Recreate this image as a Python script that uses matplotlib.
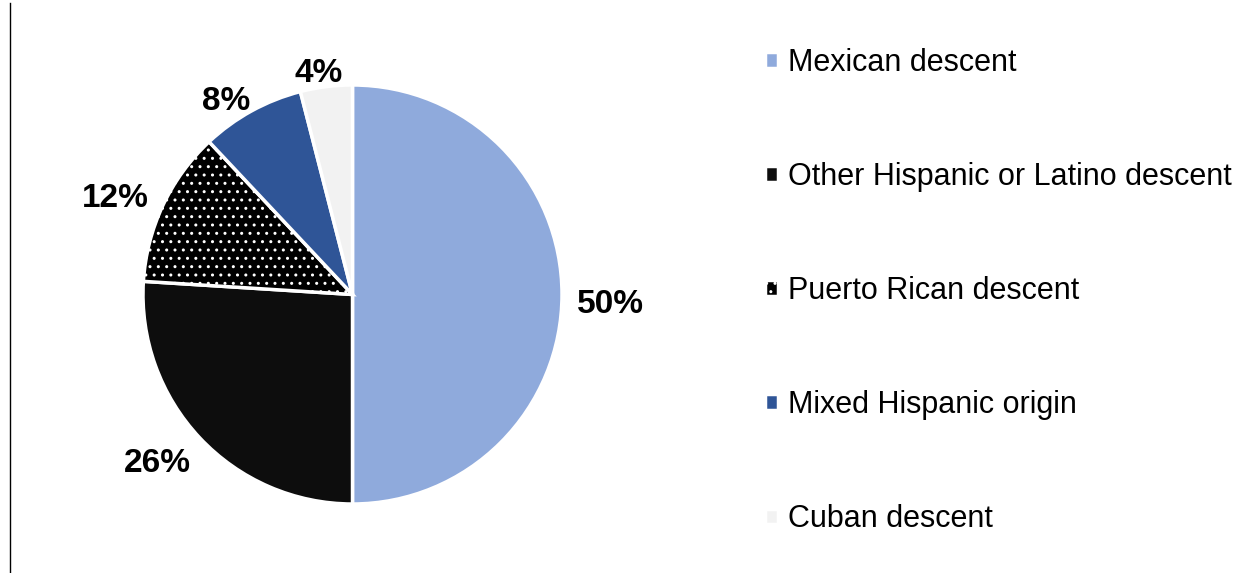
import numpy as np
import matplotlib.pyplot as plt
from matplotlib.lines import Line2D

plt.rcParams['font.family'] = ['Liberation Sans', 'DejaVu Sans']
plt.rcParams['hatch.linewidth'] = 1.0

# data
groups = ['Mexican descent', 'Other Hispanic or Latino descent',
          'Puerto Rican descent', 'Mixed Hispanic origin', 'Cuban descent']
shares = [50, 26, 12, 8, 4]

colors = ['#8FAADC', '#0D0D0D', '#000000', '#2F5597', '#F2F2F2']
hatches = [None, None, '..', None, None]
# label placement (radius multiple, angle nudge in degrees)
label_dist = [1.234, 1.22, 1.226, 1.112, 1.083]
label_turn = [-1.5, -2.8, 2.6, 4.0, 1.4]

fig = plt.figure(figsize=(12.43, 5.73), dpi=100)
ax = fig.add_axes([143 / 1243, 69 / 573, 419 / 1243, 419 / 573])

wedges, _ = ax.pie(shares, colors=colors, startangle=90, counterclock=False,
                   wedgeprops={'edgecolor': 'white', 'linewidth': 2.5})
for w, h in zip(wedges, hatches):
    if h:
        w.set_hatch(h)

for w, v, d, t in zip(wedges, shares, label_dist, label_turn):
    ang = np.deg2rad((w.theta1 + w.theta2) / 2 + t)
    ax.annotate('%d%%' % v, (d * np.cos(ang), d * np.sin(ang)),
                xytext=(0, -2.2), textcoords='offset points', annotation_clip=False,
                ha='center', va='center', fontsize=24, fontweight='bold')

ax.set_xlim(-1, 1)
ax.set_ylim(-1, 1)
ax.set_aspect('equal')
ax.axis('off')

fig.legend(wedges, groups, loc='upper left', bbox_to_anchor=(753 / 1243, 1 - 36 / 573),
           frameon=False, fontsize=22, handlelength=0.42, handleheight=0.42,
           handletextpad=0.33, labelspacing=2.75, borderaxespad=0)

fig.add_artist(Line2D([10 / 1243, 10 / 1243], [0, 1 - 3 / 573], color='black', lw=1))

plt.savefig('out.png', dpi=100)
